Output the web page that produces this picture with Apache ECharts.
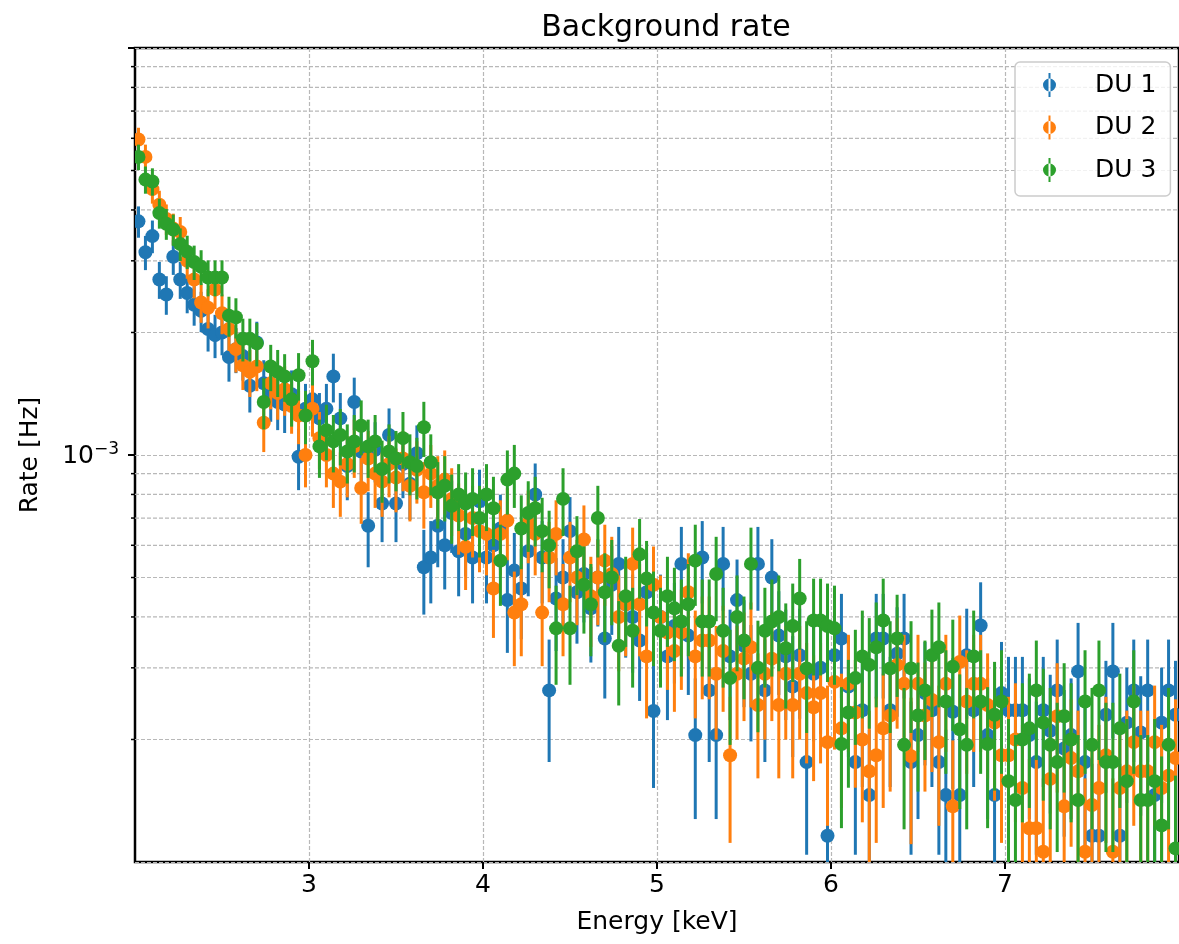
<!DOCTYPE html>
<html>
<head>
<meta charset="utf-8">
<title>Background rate</title>
<script src="https://cdn.jsdelivr.net/npm/echarts@6/dist/echarts.min.js"></script>
<style>
  html, body { margin: 0; padding: 0; background: #fff; }
  #chart { width: 1179px; height: 944px; }
</style>
</head>
<body>
<div id="chart"></div>
<script>
// bin centres [keV], 0.04 keV bins
const energies = [
  2.02, 2.06, 2.10, 2.14, 2.18, 2.22, 2.26, 2.30, 2.34, 2.38,
  2.42, 2.46, 2.50, 2.54, 2.58, 2.62, 2.66, 2.70, 2.74, 2.78,
  2.82, 2.86, 2.90, 2.94, 2.98, 3.02, 3.06, 3.10, 3.14, 3.18,
  3.22, 3.26, 3.30, 3.34, 3.38, 3.42, 3.46, 3.50, 3.54, 3.58,
  3.62, 3.66, 3.70, 3.74, 3.78, 3.82, 3.86, 3.90, 3.94, 3.98,
  4.02, 4.06, 4.10, 4.14, 4.18, 4.22, 4.26, 4.30, 4.34, 4.38,
  4.42, 4.46, 4.50, 4.54, 4.58, 4.62, 4.66, 4.70, 4.74, 4.78,
  4.82, 4.86, 4.90, 4.94, 4.98, 5.02, 5.06, 5.10, 5.14, 5.18,
  5.22, 5.26, 5.30, 5.34, 5.38, 5.42, 5.46, 5.50, 5.54, 5.58,
  5.62, 5.66, 5.70, 5.74, 5.78, 5.82, 5.86, 5.90, 5.94, 5.98,
  6.02, 6.06, 6.10, 6.14, 6.18, 6.22, 6.26, 6.30, 6.34, 6.38,
  6.42, 6.46, 6.50, 6.54, 6.58, 6.62, 6.66, 6.70, 6.74, 6.78,
  6.82, 6.86, 6.90, 6.94, 6.98, 7.02, 7.06, 7.10, 7.14, 7.18,
  7.22, 7.26, 7.30, 7.34, 7.38, 7.42, 7.46, 7.50, 7.54, 7.58,
  7.62, 7.66, 7.70, 7.74, 7.78, 7.82, 7.86, 7.90, 7.94, 7.98
];

// rates, in units of 1e-4 Hz
const du1 = [
  37.5, 31.5, 34.5, 27.0, 24.8, 30.7, 27.0, 25.0, 23.4, 22.6,
  20.4, 19.7, 20.0, 17.4, 18.2, 17.5, 14.8, 18.9, 15.0, 14.1,
  13.5, 13.3, 14.1, 9.9, 13.0, 13.7, 12.3, 13.0, 15.6, 12.3,
  9.4, 13.5, 10.2, 6.7, 10.3, 7.6, 11.2, 7.6, 9.5, 8.5,
  10.1, 5.3, 5.6, 6.7, 6.0, 7.2, 5.8, 6.4, 5.6, 7.7,
  5.6, 6.0, 6.6, 4.4, 5.2, 4.7, 5.8, 8.0, 5.6, 2.64,
  4.44, 5.0, 6.5, 4.6, 5.1, 4.2, 5.0, 3.54, 4.8, 5.4,
  4.3, 4.0, 3.5, 4.6, 2.35, 4.0, 3.2, 3.8, 5.4, 3.6,
  2.05, 5.6, 2.64, 2.05, 5.4, 3.2, 4.4, 3.4, 2.9, 5.4,
  2.64, 5.0, 3.6, 3.2, 2.7, 3.22, 1.76, 2.9, 3.0, 1.16,
  3.22, 3.54, 2.7, 1.76, 2.36, 1.46, 3.54, 3.54, 2.36, 3.25,
  3.54, 1.76, 2.05, 2.6, 2.36, 1.76, 1.46, 2.34, 1.46, 3.22,
  2.36, 3.81, 2.05, 1.46, 2.6, 2.36, 2.36, 2.36, 2.05, 1.76,
  2.36, 2.1, 2.64, 1.9, 2.05, 2.94, 1.76, 1.16, 1.16, 2.3,
  2.94, 1.16, 2.2, 2.64, 2.08, 2.64, 1.46, 2.2, 2.64, 2.3
];
const du2 = [
  59.6, 54.0, 45.0, 41.2, 38.0, 36.0, 35.3, 30.0, 27.0, 23.7,
  23.0, 25.5, 22.3, 20.4, 18.2, 16.6, 16.0, 16.5, 12.0, 15.0,
  14.2, 14.5, 13.2, 12.5, 10.0, 13.0, 11.0, 10.0, 9.0, 8.6,
  9.5, 10.5, 8.3, 9.8, 9.0, 8.6, 9.5, 8.8, 9.8, 8.4,
  9.2, 8.1, 9.0, 8.4, 8.7, 7.8, 7.1, 5.95, 7.0, 6.5,
  6.4, 4.7, 6.4, 6.9, 4.1, 4.3, 6.8, 6.4, 4.1, 5.6,
  6.4, 4.3, 5.6, 5.0, 6.2, 4.5, 5.0, 5.5, 5.1, 4.0,
  4.3, 5.4, 4.3, 3.2, 4.8, 4.0, 3.66, 3.3, 3.66, 4.6,
  3.2, 3.5, 3.5, 2.9, 3.3, 1.83, 2.9, 3.16, 3.37, 2.43,
  2.9, 3.16, 2.43, 2.9, 2.43, 2.9, 2.6, 2.4, 2.6, 1.97,
  2.77, 2.13, 2.74, 2.33, 2.0, 1.67, 1.83, 2.13, 2.29, 3.05,
  2.74, 1.82, 2.74, 2.29, 2.5, 1.97, 2.74, 1.37, 3.1, 2.48,
  2.74, 2.74, 2.43, 2.2, 1.83, 1.83, 2.0, 1.52, 1.21, 1.21,
  1.06, 1.6, 2.28, 1.37, 1.8, 1.67, 1.06, 1.38, 1.52, 1.83,
  1.06, 1.52, 1.67, 1.97, 1.67, 1.67, 1.97, 1.52, 1.63, 1.8
];
const du3 = [
  54.0, 47.5, 47.0, 39.3, 37.0, 35.8, 33.0, 31.6, 29.8, 29.0,
  27.3, 27.3, 27.3, 22.0, 21.8, 19.3, 19.3, 18.8, 13.5, 16.5,
  16.0, 15.6, 13.7, 15.7, 12.5, 17.0, 10.5, 11.5, 10.8, 11.2,
  10.2, 10.8, 11.8, 10.5, 10.8, 9.24, 10.2, 9.8, 11.0, 9.6,
  9.4, 11.7, 9.6, 8.1, 8.4, 7.5, 8.0, 7.6, 7.8, 7.0,
  8.0, 7.4, 5.5, 8.7, 9.0, 6.6, 7.2, 7.4, 6.5, 6.0,
  3.75, 7.8, 3.75, 5.8, 4.8, 4.3, 7.0, 4.6, 5.0, 3.4,
  4.5, 3.7, 5.7, 4.97, 4.1, 3.7, 4.5, 4.2, 3.9, 4.3,
  5.5, 3.9, 3.9, 5.1, 3.7, 2.83, 4.0, 3.5, 5.4, 3.0,
  3.7, 3.9, 4.0, 3.35, 3.8, 4.44, 2.99, 3.92, 3.92, 3.8,
  3.75, 1.95, 2.33, 2.83, 3.2, 3.05, 3.37, 3.92, 2.99, 3.54,
  1.94, 2.99, 2.29, 2.64, 3.22, 3.37, 2.48, 3.02, 2.12, 1.94,
  3.2, 2.48, 1.95, 2.3, 2.48, 1.58, 1.42, 2.0, 2.13, 2.64,
  2.2, 1.94, 1.76, 2.28, 2.0, 1.42, 2.48, 1.94, 2.64, 1.76,
  1.76, 2.13, 1.58, 2.48, 1.42, 1.42, 1.58, 1.23, 1.94, 1.08
];

// Hz per count of each unit, for the Poisson error bars
const countRate = [2.93e-5, 2.8e-5, 2.8e-5];

const units = ['DU 1', 'DU 2', 'DU 3'];
const colors = ['#1f77b4', '#ff7f0e', '#2ca02c'];
const xTicks = [3, 4, 5, 6, 7];
const yLabelled = [1e-3];
const minorTicks = [2e-4, 3e-4, 4e-4, 5e-4, 6e-4, 7e-4, 8e-4, 9e-4,
                    2e-3, 3e-3, 4e-3, 5e-3, 6e-3, 7e-3, 8e-3, 9e-3];

const font = 'DejaVu Sans';
const gridColor = '#b8b8b8';
// dot with error bar, like the matplotlib legend handle
const legendIcon = 'path://M5.5,0h2v24h-2z M0,12a6.5,6.5 0 1,0 13,0a6.5,6.5 0 1,0 -13,0z';

const chart = echarts.init(document.getElementById('chart'), null, { renderer: 'canvas' });

const renderBar = (params, api) => {
  const x = api.value(0);
  const top = api.coord([x, api.value(2)]);
  const bot = api.coord([x, api.value(1)]);
  return {
    type: 'line',
    shape: { x1: top[0], y1: top[1], x2: bot[0], y2: bot[1] },
    style: { stroke: api.visual('color'), lineWidth: 3 }
  };
};

const renderDot = (params, api) => {
  const p = api.coord([api.value(0), api.value(1)]);
  return {
    type: 'circle',
    shape: { cx: p[0], cy: p[1], r: 7 },
    style: { fill: api.visual('color') }
  };
};

const renderMinor = (params, api) => {
  const cs = params.coordSys;
  const y = api.coord([2.5, api.value(0)])[1];
  return {
    type: 'group',
    children: [
      { type: 'line', shape: { x1: cs.x, y1: y, x2: cs.x + cs.width, y2: y },
        style: { stroke: gridColor, lineWidth: 1.2, lineDash: [4, 2] } },
      { type: 'line', shape: { x1: cs.x - 4, y1: y, x2: cs.x, y2: y },
        style: { stroke: '#000', lineWidth: 1.5 } }
    ]
  };
};

const series = [{
  type: 'custom',
  name: 'minor',
  silent: true,
  renderItem: renderMinor,
  data: minorTicks.map(v => [v]),
  encode: { y: 0 },
  z: 1
}];

[du1, du2, du3].forEach((rates, k) => {
  const q = countRate[k];
  const bars = energies.map((e, i) => {
    const r = rates[i] * 1e-4;
    const s = Math.sqrt(r * q);
    return [e, Math.max(r - s, 1e-6), r + s];
  });
  const dots = energies.map((e, i) => [e, rates[i] * 1e-4]);
  series.push({
    type: 'custom',
    name: units[k] + ' err',
    color: colors[k],
    clip: true,
    silent: true,
    renderItem: renderBar,
    data: bars,
    encode: { x: 0, y: [1, 2] },
    z: 2
  });
  series.push({
    type: 'custom',
    name: units[k],
    color: colors[k],
    clip: true,
    silent: true,
    renderItem: renderDot,
    data: dots,
    encode: { x: 0, y: 1 },
    z: 2
  });
});

const isLabelled = v => yLabelled.some(t => Math.abs(Math.log10(v) - Math.log10(t)) < 1e-6);

const option = {
  animation: false,
  backgroundColor: '#fff',
  textStyle: { fontFamily: font },
  title: {
    text: 'Background rate',
    left: 661,
    textAlign: 'center',
    top: 8,
    textStyle: { fontFamily: font, fontSize: 30, fontWeight: 'normal', color: '#000' }
  },
  legend: {
    orient: 'vertical',
    left: 1015,
    top: 62,
    data: units.map(name => ({ name: name, icon: legendIcon })),
    itemWidth: 13,
    itemHeight: 24,
    itemGap: 17.5,
    padding: [10.5, 14, 13.5, 28],
    backgroundColor: 'rgba(255,255,255,0.8)',
    borderColor: '#cccccc',
    borderWidth: 1.5,
    borderRadius: 5,
    selectedMode: false,
    textStyle: { fontFamily: font, fontSize: 25, lineHeight: 25, color: '#000', padding: [0, 0, 0, 34] }
  },
  grid: {
    left: 135,
    top: 48,
    width: 1051.5,
    height: 814,
    show: true,
    borderColor: '#000',
    borderWidth: 2.5,
    containLabel: false
  },
  xAxis: {
    type: 'value',
    min: 2,
    max: 8,
    interval: 1,
    name: 'Energy [keV]',
    nameLocation: 'middle',
    nameGap: 48,
    nameTextStyle: { fontFamily: font, fontSize: 25, color: '#000' },
    axisLine: { show: false },
    axisTick: { show: true, length: 7, lineStyle: { color: '#000', width: 2 }, customValues: xTicks },
    axisLabel: { fontFamily: font, fontSize: 25, color: '#000', margin: 11, customValues: xTicks },
    splitLine: { show: true, lineStyle: { color: gridColor, width: 1.2, type: [4, 2] } }
  },
  yAxis: {
    type: 'log',
    logBase: 10,
    min: 1e-4,
    max: 1e-2,
    name: 'Rate [Hz]',
    nameLocation: 'middle',
    nameGap: 92,
    nameTextStyle: { fontFamily: font, fontSize: 25, color: '#000' },
    axisLine: { show: false },
    axisTick: { show: true, length: 7, lineStyle: { color: '#000', width: 2 } },
    axisLabel: {
      showMinLabel: false,
      showMaxLabel: false,
      margin: 16,
      formatter: v => isLabelled(v)
        ? '{n|10}{s|\u2212' + Math.abs(Math.round(Math.log10(v))) + '}'
        : '',
      rich: {
        n: { fontFamily: font, fontSize: 25, color: '#000', verticalAlign: 'bottom' },
        s: { fontFamily: font, fontSize: 17, color: '#000', verticalAlign: 'bottom', padding: [0, 0, 10, 0] }
      }
    },
    splitLine: { show: true, lineStyle: { color: gridColor, width: 1.2, type: [4, 2] } }
  },
  series: series
};

chart.setOption(option);
window.addEventListener('resize', () => chart.resize());
</script>
</body>
</html>
